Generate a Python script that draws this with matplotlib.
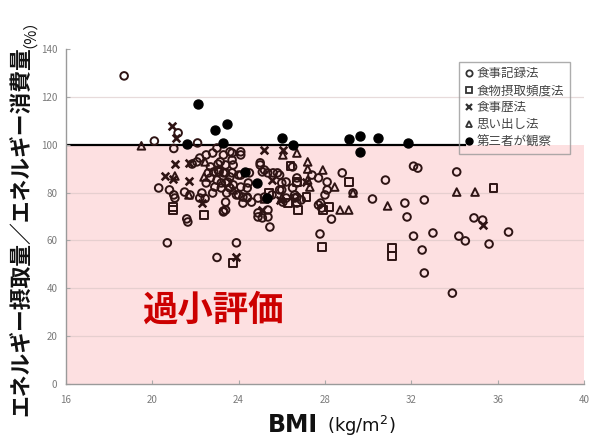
import matplotlib
matplotlib.use("Agg")
import matplotlib.pyplot as plt
from matplotlib.lines import Line2D

plt.rcParams['font.family'] = ['Noto Sans CJK JP', 'DejaVu Sans']

# --- data (BMI, intake/expenditure %) ---
rec_x = [18.7, 20.1, 21.2, 21.0, 22.1, 20.3, 20.7, 23.0, 23.9, 23.3, 21.6, 21.65,
         20.8, 21.0, 21.5, 21.75, 22.3, 22.45, 22.5, 22.6, 22.85, 23.05, 21.85, 22.07,
         22.2, 22.5, 22.8, 23.0, 23.15, 23.6, 23.7, 23.1, 23.4, 23.7, 24.1, 22.7,
         23.0, 23.5, 23.2, 22.9, 23.2, 23.6, 24.4, 22.8, 23.9, 24.2, 24.4, 24.9,
         22.2, 21.05, 23.4, 25.36, 25.45, 25.36, 24.9, 25.0, 25.2, 25.6, 25.9, 26.2,
         26.5, 26.7, 26.0, 26.2, 25.2, 25.55, 26.05, 26.7, 26.5, 22.7, 23.05, 24.1,
         23.75, 23.3, 23.7, 24.1, 23.4, 23.3, 23.6, 24.0, 24.5, 23.4, 23.75, 24.1,
         24.45, 23.45, 24.0, 24.4, 24.6, 24.2, 23.4, 23.3, 25.0, 25.1, 25.35, 25.8,
         26.0, 25.9, 24.9, 25.1, 26.7, 26.6, 26.7, 27.4, 27.7, 27.7, 28.1, 28.1,
         28.0, 27.8, 27.85, 26.9, 26.6, 27.77, 28.3, 28.8, 30.8, 30.2, 29.3, 34.1,
         31.7, 32.6, 31.8, 32.1, 33.0, 32.5, 32.6, 33.9, 34.2, 34.5, 34.9, 35.3,
         35.6, 36.5, 32.1, 32.3]
rec_y = [128.7, 101.5, 104.9, 98.4, 100.7, 81.9, 59.0, 52.9, 59.0, 72.3, 69.0, 67.7,
         81.1, 79.0, 80.2, 79.0, 79.8, 77.5, 84.0, 88.2, 88.6, 91.9, 91.9, 92.8,
         94.4, 95.7, 96.5, 98.6, 92.8, 97.0, 93.6, 88.6, 88.2, 88.2, 87.3, 86.1,
         85.2, 84.4, 84.0, 82.3, 81.9, 81.9, 81.9, 79.8, 79.0, 78.1, 77.7, 77.7,
         77.7, 77.7, 72.7, 72.7, 65.6, 69.8, 69.8, 92.4, 89.4, 88.2, 87.3, 84.4,
         81.9, 78.1, 81.1, 77.7, 78.1, 79.0, 76.0, 86.1, 90.7, 90.7, 89.4, 95.7,
         91.5, 95.7, 96.5, 97.0, 91.5, 88.2, 86.5, 87.3, 88.2, 84.0, 83.2, 82.3,
         84.0, 79.8, 79.0, 78.1, 76.0, 75.6, 76.0, 71.9, 91.5, 88.6, 88.2, 88.2,
         84.0, 81.1, 71.5, 69.4, 84.0, 79.0, 75.6, 87.3, 74.8, 86.1, 84.4, 81.1,
         79.0, 75.6, 73.5, 76.9, 77.7, 62.7, 68.9, 88.2, 85.2, 77.3, 79.8, 88.6,
         75.6, 76.9, 69.8, 61.8, 63.1, 56.0, 46.4, 38.0, 61.8, 59.8, 69.4, 68.5,
         58.5, 63.5, 91.0, 90.2]

ffq_x = [35.8, 31.1, 31.1, 29.1, 26.4, 26.7, 27.15, 26.3, 26.75, 27.9, 28.2, 27.85,
         23.75, 25.4, 22.4, 20.95, 20.95]
ffq_y = [81.9, 56.8, 53.5, 84.4, 91.2, 84.4, 78.1, 75.6, 72.7, 72.7, 74.0, 57.3,
         50.6, 79.8, 70.6, 74.0, 72.7]

hist_x = [20.9, 21.1, 21.05, 20.6, 21.7, 20.95, 21.7, 25.2, 26.05, 22.3, 23.9, 25.55,
          25.1, 25.9, 27.1, 35.3]
hist_y = [107.8, 102.8, 91.9, 86.9, 84.8, 85.7, 92.4, 97.8, 97.8, 75.6, 53.1, 85.2,
          72.7, 76.9, 84.4, 66.4]

recall_x = [19.5, 21.05, 22.4, 21.7, 22.45, 26.7, 23.75, 26.05, 27.2, 27.2, 27.2, 27.3,
            27.9, 28.45, 28.7, 29.1, 29.3, 30.9, 25.2, 26.0, 34.1, 34.95]
recall_y = [99.5, 86.9, 86.5, 79.0, 92.8, 96.5, 81.1, 95.7, 92.8, 89.8, 85.2, 82.3,
            89.4, 82.3, 72.7, 72.7, 79.8, 74.4, 77.3, 77.7, 80.2, 80.2]

obs_x = [21.6, 22.1, 22.9, 23.45, 23.3, 26.0, 26.5, 29.1, 29.6, 30.45, 29.6, 31.85,
         24.3, 24.85, 25.3]
obs_y = [100.3, 117.0, 106.1, 108.6, 100.7, 102.8, 99.9, 102.4, 103.6, 102.8, 96.9, 100.7,
         88.6, 84.0, 77.7]

labels = ['食事記録法', '食物摂取頻度法', '食事歴法', '思い出し法', '第三者が観察']
x_ticks = [16, 20, 24, 28, 32, 36, 40]
y_ticks = [0, 20, 40, 60, 80, 100, 120, 140]

mc = '#2e1414'

fig = plt.figure(figsize=(5.93, 4.40), dpi=100)
ax = fig.add_axes([0.111, 0.127, 0.874, 0.762])
ax.set_xlim(16, 40)
ax.set_ylim(0, 140)

# underestimation region
ax.axhspan(0, 100, color='#fde0e1', zorder=0, lw=0)
for yv in [20, 40, 60, 80, 120]:
    ax.axhline(yv, color='#d8c4c4', lw=0.9, alpha=0.6, zorder=0.5)
ax.plot([16, 34.5], [100, 100], color='black', lw=1.6, zorder=1)

ms = 30
lw = 1.4
ax.scatter(rec_x, rec_y, s=ms, marker='o', facecolors='none', edgecolors=mc, linewidths=lw, zorder=3)
ax.scatter(ffq_x, ffq_y, s=ms, marker='s', facecolors='none', edgecolors=mc, linewidths=lw, zorder=3)
ax.scatter(hist_x, hist_y, s=ms, marker='x', color=mc, linewidths=1.9, zorder=3)
ax.scatter(recall_x, recall_y, s=ms, marker='^', facecolors='none', edgecolors=mc, linewidths=lw, zorder=3)
ax.scatter(obs_x, obs_y, s=42, marker='o', color='black', zorder=4)

ax.set_xticks(x_ticks)
ax.set_yticks(y_ticks)
ax.tick_params(axis='both', direction='in', length=3, width=0.8, colors='#aaaaaa',
               labelcolor='#7a7a7a', labelsize=7)
ax.tick_params(axis='x', pad=8)
ax.tick_params(axis='y', pad=6)
for s in ['top', 'right']:
    ax.spines[s].set_visible(False)
for s in ['left', 'bottom']:
    ax.spines[s].set_color('#9a9a9a')
    ax.spines[s].set_linewidth(1.0)

handles = [
    Line2D([], [], ls='', marker='o', mfc='none', mec='#333333', ms=4.5, mew=1.3),
    Line2D([], [], ls='', marker='s', mfc='none', mec='#333333', ms=4.5, mew=1.3),
    Line2D([], [], ls='', marker='x', color='#333333', ms=4.5, mew=1.6),
    Line2D([], [], ls='', marker='^', mfc='none', mec='#333333', ms=4.5, mew=1.3),
    Line2D([], [], ls='', marker='o', color='black', ms=5),
]
leg = ax.legend(handles, labels, loc='upper left', bbox_to_anchor=(0.759, 0.962),
                frameon=True, fancybox=False, fontsize=9, handlelength=0.7,
                handletextpad=0.25, labelspacing=0.32, borderpad=0.45,
                labelcolor='#444444', borderaxespad=0)
leg.get_frame().set_facecolor('none')
leg.get_frame().set_edgecolor('#999999')
leg.get_frame().set_linewidth(1.0)

ax.text(22.8, 31, '過小評価', color='#cc0000', fontsize=25.5, fontweight='bold',
        ha='center', va='center', zorder=5)

# axis labels
fig.text(0.036, 0.055, 'エネルギー摂取量／エネルギー消費量', rotation=90, ha='center', va='bottom',
         fontsize=15.7, fontweight='bold', color='#111111')
fig.text(0.036, 0.89, '（%）', rotation=90, ha='center', va='bottom',
         fontsize=11, color='#111111')
fig.text(0.537, 0.018, 'BMI', ha='right', va='baseline', fontsize=17, fontweight='bold',
         family=['DejaVu Sans'], color='#111111')
fig.text(0.552, 0.018, '(kg/m$^2$)', ha='left', va='baseline', fontsize=13,
         family=['DejaVu Sans'], color='#111111')

fig.savefig('out.png', dpi=100)
